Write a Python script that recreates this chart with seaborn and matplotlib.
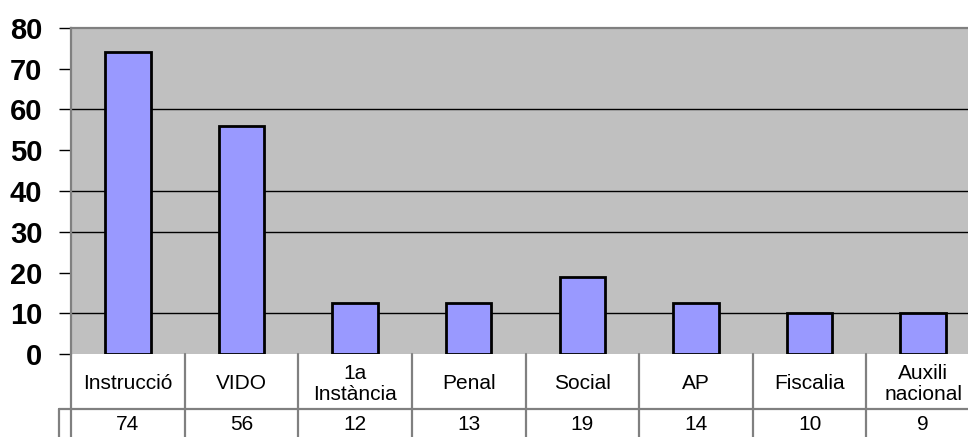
import matplotlib
matplotlib.use("Agg")
import matplotlib.pyplot as plt
import seaborn as sns
import pandas as pd

# dades del grafic
categories = ["Instrucció", "VIDO", "1a\nInstància", "Penal", "Social", "AP", "Fiscalia", "Auxili\nnacional"]
alcades = [74, 56, 12.5, 12.5, 19, 12.5, 10, 10]   # alcada de les barres llegida del grafic
valors_taula = ["74", "56", "12", "13", "19", "14", "10", "9"]
yticks = [0, 10, 20, 30, 40, 50, 60, 70, 80]
linies_graella = [10, 30, 40, 60]

sns.set_style("white")
plt.rcParams["font.family"] = ["Liberation Sans", "DejaVu Sans"]
plt.rcParams["text.color"] = "black"
plt.rcParams["ytick.color"] = "black"

tabela = pd.DataFrame({"cat": categories, "val": alcades})

fig = plt.figure(figsize=(9.68, 4.37), dpi=100)
ax = fig.add_axes([71 / 968, 82.7 / 437, 909 / 968, 326.6 / 437])
ax.set_facecolor("#C0C0C0")

sns.barplot(data=tabela, x="cat", y="val", color="#9999FF", saturation=1,
            width=0.4, edgecolor="black", linewidth=2.0, ax=ax, zorder=2)
ax.grid(False)

for g in linies_graella:
    ax.axhline(g, color="black", lw=1.0, zorder=1)

ax.set_xlim(-0.5, len(categories) - 0.5)
ax.set_ylim(0, 80)
ax.set_yticks(yticks)
ax.set_yticklabels([str(t) for t in yticks], fontsize=21, fontweight="bold", color="black")
ax.tick_params(axis="y", length=8.6, width=1.0, color="black", left=True, pad=12)
ax.set_xticks([])
ax.set_xlabel("")
ax.set_ylabel("")

for s in ["left", "top"]:
    ax.spines[s].set_color("#808080")
    ax.spines[s].set_linewidth(1.6)
ax.spines["right"].set_visible(False)
ax.spines["bottom"].set_visible(False)

# taula de dades a sota
trans = ax.get_xaxis_transform()
px = 1 / 326.6
fila1 = -55 * px
fila2 = -90 * px
for i, (c, v) in enumerate(zip(categories, valors_taula)):
    ax.text(i, -29.5 * px, c, transform=trans, ha="center", va="center",
            fontsize=15, linespacing=1.1, color="black", clip_on=False)
    ax.text(i, -70 * px, v, transform=trans, ha="center", va="center",
            fontsize=15, color="black", clip_on=False)

for k in range(len(categories) + 1):
    ax.plot([k - 0.5, k - 0.5], [0, fila2], transform=trans, color="#808080",
            lw=1.6, clip_on=False)
ax.plot([-0.606, len(categories) - 0.5], [fila1, fila1], transform=trans,
        color="#808080", lw=1.6, clip_on=False)
ax.plot([-0.606, -0.606], [fila1, fila2], transform=trans, color="#808080",
        lw=1.6, clip_on=False)

fig.savefig("out.png", dpi=100)
